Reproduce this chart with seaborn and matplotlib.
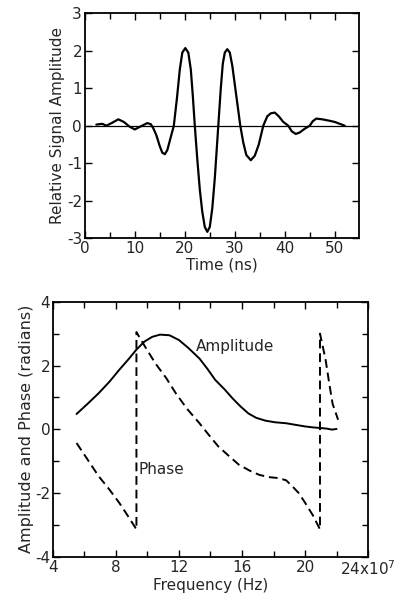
import numpy as np
import seaborn as sns
import matplotlib.pyplot as plt

# sinal no dominio do tempo
tempo = [2.3, 3.5, 4.3, 5.5, 6.7, 7.8, 9.0, 10.0, 11.0, 12.5, 13.2, 13.7, 14.3,
         15.0, 15.5, 16.0, 16.5, 17.0, 17.8, 18.4, 19.0, 19.5, 20.1, 20.7, 21.2,
         21.6, 22.0, 22.5, 23.0, 23.5, 24.0, 24.5, 25.0, 25.5, 26.0, 26.7, 27.2,
         27.6, 28.0, 28.5, 29.0, 29.5, 30.0, 30.6, 31.1, 31.7, 32.3, 33.2, 34.0,
         34.8, 35.7, 36.5, 37.2, 38.0, 38.8, 39.7, 40.7, 41.4, 42.2, 43.0, 44.0,
         45.0, 45.6, 46.3, 47.5, 49.0, 50.0, 51.0, 52.0]
amplitude = [0.03, 0.05, 0.0, 0.08, 0.17, 0.1, -0.03, -0.1, -0.03, 0.07, 0.04,
             -0.07, -0.25, -0.55, -0.72, -0.76, -0.65, -0.4, 0.0, 0.7, 1.5, 1.95,
             2.07, 1.95, 1.5, 0.8, 0.0, -0.9, -1.7, -2.3, -2.7, -2.83, -2.7, -2.2,
             -1.4, 0.0, 1.0, 1.65, 1.95, 2.04, 1.95, 1.6, 1.1, 0.5, 0.0, -0.45,
             -0.78, -0.92, -0.8, -0.5, 0.0, 0.25, 0.33, 0.35, 0.25, 0.1, 0.0,
             -0.15, -0.22, -0.18, -0.08, 0.0, 0.12, 0.19, 0.17, 0.13, 0.1, 0.05,
             0.0]

# espectro: amplitude e fase
freq_amp = [5.5, 6.2, 6.9, 7.6, 8.2, 8.8, 9.3, 9.8, 10.3, 10.8, 11.4, 12.0, 12.6,
            13.3, 13.8, 14.3, 14.9, 15.4, 15.9, 16.4, 16.9, 17.5, 18.1, 18.8,
            19.4, 20.0, 20.5, 21.0, 21.4, 21.7, 22.0]
amp_espectro = [0.48, 0.8, 1.13, 1.5, 1.86, 2.2, 2.5, 2.75, 2.9, 2.97, 2.95, 2.8,
                2.55, 2.22, 1.9, 1.55, 1.25, 0.97, 0.72, 0.5, 0.36, 0.27, 0.22,
                0.19, 0.14, 0.09, 0.06, 0.04, 0.02, -0.01, 0.01]
freq_fase = [5.5, 6.2, 6.9, 7.6, 8.2, 8.8, 9.3, 9.3, 9.9, 10.5, 11.2, 11.8, 12.5,
             13.3, 13.9, 14.5, 15.2, 15.8, 16.5, 17.1, 17.7, 18.3, 18.8, 19.2,
             19.6, 20.0, 20.5, 20.95, 20.95, 21.3, 21.55, 21.75, 22.1]
fase = [-0.43, -0.95, -1.47, -1.9, -2.3, -2.75, -3.14, 3.05, 2.55, 2.07, 1.6,
        1.13, 0.65, 0.19, -0.18, -0.54, -0.85, -1.11, -1.3, -1.43, -1.5, -1.53,
        -1.6, -1.79, -2.0, -2.3, -2.7, -3.14, 3.0, 2.2, 1.4, 0.8, 0.3]

sns.set_style("ticks")
plt.rcParams['font.family'] = ['DejaVu Sans']
plt.rcParams['axes.unicode_minus'] = False
plt.rcParams['xtick.direction'] = 'in'
plt.rcParams['ytick.direction'] = 'in'

fig = plt.figure(figsize=(4.04, 6.0), dpi=100)
ax1 = fig.add_axes([0.210, 0.603, 0.678, 0.375])
ax2 = fig.add_axes([0.131, 0.072, 0.780, 0.425])

# grafico de cima
ax1.axhline(0, color="black", lw=0.9)
sns.lineplot(x=tempo, y=amplitude, ax=ax1, color="black", lw=1.6,
             estimator=None, sort=False)
ax1.lines[-1].set_solid_joinstyle("round")
ax1.set_xlim(0, 54.8)
ax1.set_ylim(-3, 3)
ax1.set_xticks(np.arange(0, 51, 10))
ax1.set_xticks(np.arange(5, 55, 10), minor=True)
ax1.set_yticks(np.arange(-3, 4, 1))
ax1.set_xlabel("Time (ns)", fontsize=11, labelpad=1)
ax1.set_ylabel("Relative Signal Amplitude", fontsize=11, labelpad=1)

# grafico de baixo
sns.lineplot(x=freq_amp, y=amp_espectro, ax=ax2, color="black", lw=1.4,
             estimator=None, sort=False)
sns.lineplot(x=freq_fase, y=fase, ax=ax2, color="black", lw=1.4,
             estimator=None, sort=False)
ax2.lines[-1].set_dashes([4.5, 2.5])
ax2.set_xlim(4, 24)
ax2.set_ylim(-4, 4)
ax2.set_xticks([4, 8, 12, 16, 20, 24])
ax2.set_xticklabels(["4", "8", "12", "16", "20", "24x10$^7$"])
ax2.set_xticks([6, 10, 14, 18, 22], minor=True)
ax2.set_yticks([-4, -2, 0, 2, 4])
ax2.set_yticks([-3, -1, 1, 3], minor=True)
ax2.text(13.05, 2.6, "Amplitude", fontsize=11, va="center")
ax2.text(9.45, -1.27, "Phase", fontsize=11, va="center")
ax2.set_xlabel("Frequency (Hz)", fontsize=11, labelpad=0)
ax2.set_ylabel("Amplitude and Phase (radians)", fontsize=11.5, labelpad=1)

for ax in (ax1, ax2):
    ax.tick_params(which="both", top=True, right=True, labelsize=11,
                   width=1, color="black", pad=2)
    ax.tick_params(which="major", length=5)
    ax.tick_params(which="minor", length=4)
    for s in ax.spines.values():
        s.set_linewidth(1.3)
        s.set_color("black")

plt.savefig("out.png", dpi=100)
